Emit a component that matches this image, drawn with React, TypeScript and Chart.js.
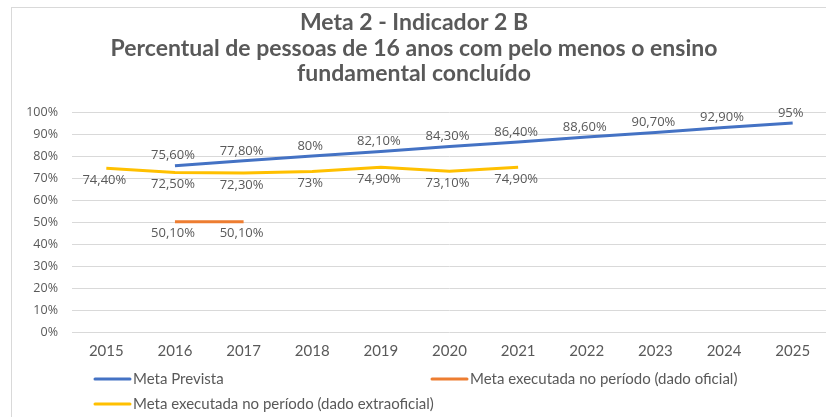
import React, { useEffect, useRef } from "react";
import { Chart, registerables } from "chart.js";

Chart.register(...registerables);

const years = ["2015", "2016", "2017", "2018", "2019", "2020", "2021", "2022", "2023", "2024", "2025"];
const metaPrevista = [null, 75.6, 77.8, 80, 82.1, 84.3, 86.4, 88.6, 90.7, 92.9, 95];
const metaOficial = [null, 50.1, 50.1, null, null, null, null, null, null, null, null];
const metaExtraoficial = [74.4, 72.5, 72.3, 73, 74.9, 73.1, 74.9, null, null, null, null];
const titleLines = [
  "Meta 2 - Indicador 2 B",
  "Percentual de pessoas de 16 anos com pelo menos o ensino",
  "fundamental concluído",
];
const seriesNames = [
  "Meta Prevista",
  "Meta executada no período (dado oficial)",
  "Meta executada no período (dado extraoficial)",
];
const colors = ["#4472C4", "#ED7D31", "#FFC000"];

const fmt = (v: number) =>
  Number.isInteger(v) ? `${v}%` : `${v.toFixed(2).replace(".", ",")}%`;

const labelPlugin = {
  id: "labelsPlugin",
  afterDatasetsDraw(chart: any) {
    const ctx = chart.ctx;
    ctx.save();
    ctx.font = "13px 'Open Sans'";
    ctx.fillStyle = "#595959";
    ctx.textAlign = "center";
    ctx.textBaseline = "middle";
    chart.data.datasets.forEach((ds: any, i: number) => {
      const meta = chart.getDatasetMeta(i);
      meta.data.forEach((pt: any, j: number) => {
        const v = ds.data[j];
        if (v === null || v === undefined) return;
        const dy = ds.labelPos === "above" ? -10 : 12;
        ctx.fillText(fmt(v), pt.x - 2, pt.y + dy);
      });
    });
    ctx.restore();
  },
  afterDraw(chart: any) {
    const ctx = chart.ctx;
    ctx.save();
    // title
    ctx.fillStyle = "#595959";
    ctx.font = "bold 23px Lato";
    ctx.textAlign = "center";
    ctx.textBaseline = "middle";
    const ys = [15, 41, 66];
    titleLines.forEach((t, i) => ctx.fillText(t, 402, ys[i]));
    // legend
    const items = [
      { x: 83, y: 371 },
      { x: 420, y: 371 },
      { x: 83, y: 396 },
    ];
    ctx.font = "15px Lato";
    ctx.textAlign = "left";
    items.forEach((it, i) => {
      ctx.strokeStyle = colors[i];
      ctx.lineWidth = 3;
      ctx.lineCap = "round";
      ctx.beginPath();
      ctx.moveTo(it.x, it.y);
      ctx.lineTo(it.x + 35, it.y);
      ctx.stroke();
      ctx.fillStyle = "#595959";
      ctx.fillText(seriesNames[i], it.x + 38, it.y);
    });
    ctx.restore();
  },
};

export default function App() {
  const ref = useRef<HTMLCanvasElement>(null);
  useEffect(() => {
    document.body.style.overflow = "hidden";
    const chart = new Chart(ref.current!, {
      type: "line",
      data: {
        labels: years,
        datasets: [
          { label: seriesNames[0], data: metaPrevista, borderColor: colors[0], backgroundColor: colors[0], borderWidth: 3, pointRadius: 0, tension: 0, labelPos: "above" } as any,
          { label: seriesNames[1], data: metaOficial, borderColor: colors[1], backgroundColor: colors[1], borderWidth: 3, pointRadius: 0, tension: 0, labelPos: "below" } as any,
          { label: seriesNames[2], data: metaExtraoficial, borderColor: colors[2], backgroundColor: colors[2], borderWidth: 3, pointRadius: 0, tension: 0, labelPos: "below" } as any,
        ],
      },
      options: {
        animation: false,
        responsive: false,
        maintainAspectRatio: false,
        layout: { padding: { left: 0, right: 0, top: 104, bottom: 55 } },
        plugins: { legend: { display: false }, title: { display: false }, tooltip: { enabled: false } },
        scales: {
          x: {
            offset: true,
            grid: { display: false, drawTicks: false },
            border: { display: false },
            ticks: { color: "#595959", font: { family: "Lato", size: 15 }, padding: 10, maxRotation: 0 },
            afterFit: (s: any) => { s.height = 30; },
          },
          y: {
            min: 0,
            max: 100,
            ticks: { stepSize: 10, color: "#595959", font: { family: "'Open Sans'", size: 12.5 }, padding: 14, callback: (v: any) => `${v}%` },
            grid: { color: "#d9d9d9", drawTicks: false, lineWidth: 1 },
            border: { display: false },
            afterFit: (s: any) => { s.width = 60; },
          },
        },
      },
      plugins: [labelPlugin],
    });
    return () => chart.destroy();
  }, []);
  return (
    <div
      style={{
        position: "absolute",
        left: 11,
        top: 7,
        width: 820,
        height: 415,
        borderLeft: "1px solid #d9d9d9",
        borderTop: "1px solid #d9d9d9",
        background: "#fff",
      }}
    >
      <canvas ref={ref} width={815} height={409} style={{ display: "block" }} />
    </div>
  );
}
